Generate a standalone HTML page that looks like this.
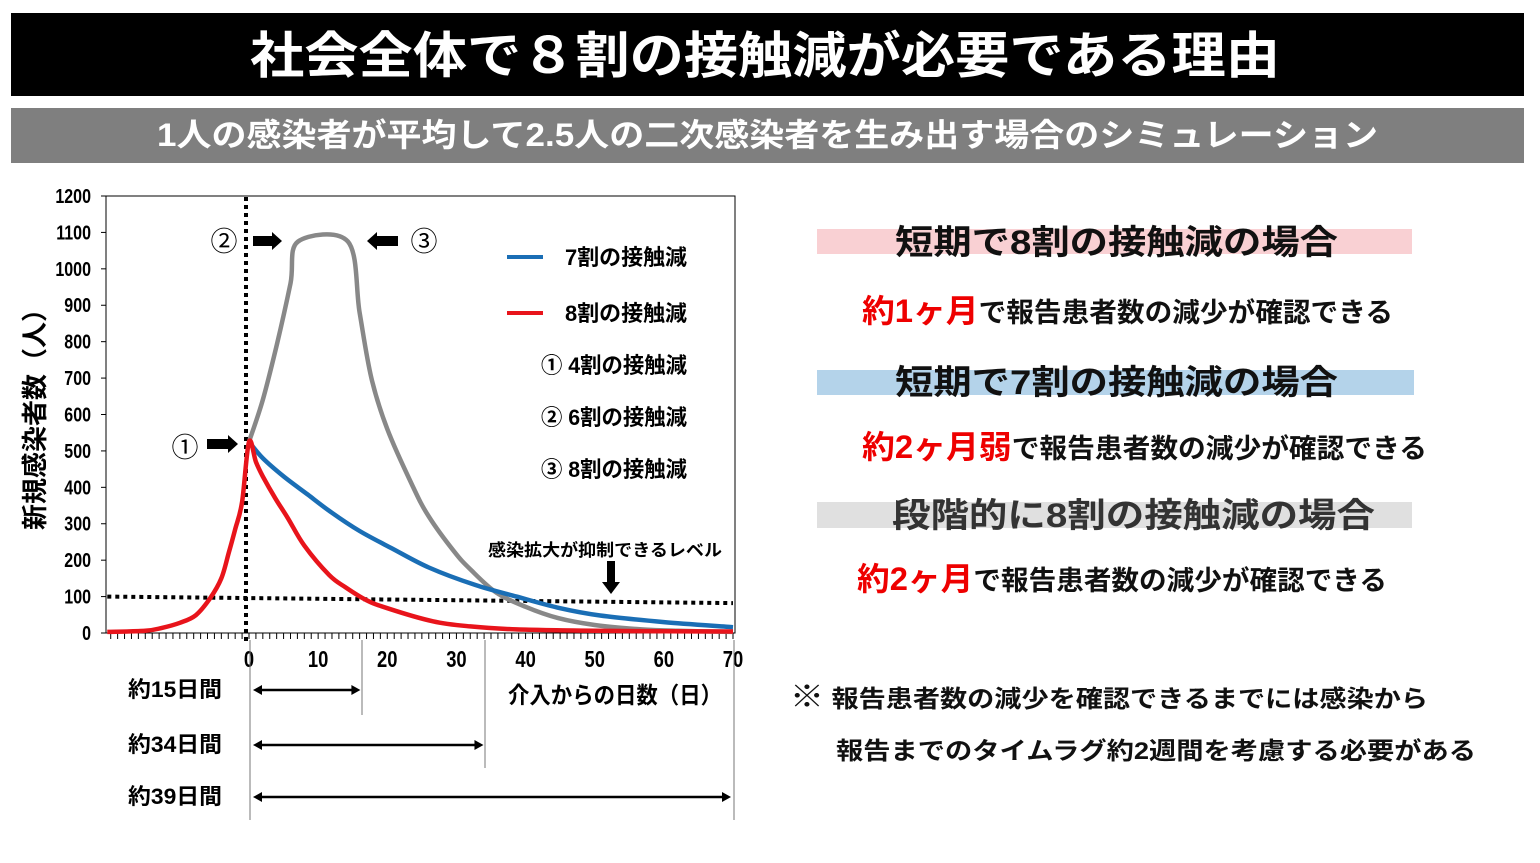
<!DOCTYPE html>
<html><head><meta charset="utf-8">
<style>
body{margin:0;width:1540px;height:858px;background:#fff;overflow:hidden;font-family:"Liberation Sans","Noto Sans CJK JP",sans-serif;}
svg text{font-family:"Liberation Sans","Noto Sans CJK JP",sans-serif;}
</style></head>
<body>
<svg width="1540" height="858" viewBox="0 0 1540 858" xmlns="http://www.w3.org/2000/svg">
<rect x="11" y="13" width="1513" height="83" fill="#000"/>
<text x="250" y="73" textLength="1030" lengthAdjust="spacingAndGlyphs" fill="#fff" font-size="50" font-weight="bold">社会全体で８割の接触減が必要である理由</text>
<rect x="11" y="108" width="1513" height="55" fill="#7f7f7f"/>
<text x="157" y="146" textLength="1221" lengthAdjust="spacingAndGlyphs" fill="#fff" font-size="32" font-weight="bold">1人の感染者が平均して2.5人の二次感染者を生み出す場合のシミュレーション</text>

<g id="chart"></g>

<rect x="817" y="229" width="595" height="25" fill="#f9d0d3"/>
<text x="895" y="254" textLength="443" lengthAdjust="spacingAndGlyphs" font-size="34" font-weight="bold" fill="#111">短期で8割の接触減の場合</text>
<text x="862" y="322" textLength="531" lengthAdjust="spacingAndGlyphs" font-size="27" font-weight="bold" fill="#111"><tspan fill="#e00" font-size="32">約1ヶ月</tspan>で報告患者数の減少が確認できる</text>
<rect x="817" y="370" width="597" height="25" fill="#b4d3ea"/>
<text x="895" y="394" textLength="443" lengthAdjust="spacingAndGlyphs" font-size="34" font-weight="bold" fill="#111">短期で7割の接触減の場合</text>
<text x="862" y="458" textLength="565" lengthAdjust="spacingAndGlyphs" font-size="27" font-weight="bold" fill="#111"><tspan fill="#e00" font-size="32">約2ヶ月弱</tspan>で報告患者数の減少が確認できる</text>
<rect x="817" y="502" width="595" height="26" fill="#e0e0e0"/>
<text x="892" y="527" textLength="483" lengthAdjust="spacingAndGlyphs" font-size="34" font-weight="bold" fill="#333">段階的に8割の接触減の場合</text>
<text x="857" y="590" textLength="530" lengthAdjust="spacingAndGlyphs" font-size="27" font-weight="bold" fill="#111"><tspan fill="#e00" font-size="32">約2ヶ月</tspan>で報告患者数の減少が確認できる</text>
<text x="790" y="707" textLength="638" lengthAdjust="spacingAndGlyphs" font-size="24" font-weight="bold" fill="#111"><tspan font-size="30">※</tspan> 報告患者数の減少を確認できるまでには感染から</text>
<text x="836" y="759" textLength="640" lengthAdjust="spacingAndGlyphs" font-size="24" font-weight="bold" fill="#111">報告までのタイムラグ約2週間を考慮する必要がある</text>
</svg>
<script>
const yTicks=[0,100,200,300,400,500,600,700,800,900,1000,1100,1200];
const xTicks=[0,10,20,30,40,50,60,70];
const redDays=[-20.5,-15,-12.6,-10,-7.7,-5.6,-4,-2.9,-2,-1,0,1,2,3.8,5.6,8,11.6,14,17,20,26.6,32,38.7,50,60,70];
const redVals=[3,6,14,28,49,96,150,222,285,360,525,470,430,370,316,240,159,125,90,68,32,18,10,6,5,4];
const blueDays=[0,2,5,8.5,12,16,20.6,26,32.7,38.7,45,50.8,60,70];
const blueVals=[525,480,430,380,330,280,233,180,132,100,68,48,30,16];
const grayDays=[0,2,4,6,7.1,14.3,16,17.7,20,23.6,26,29.7,32,35.7,40,44.7,50,56.8,62,70];
const grayVals=[525,640,790,960,1075,1075,880,700,560,406,320,223,175,112,72,41,22,10,6,3];
const levelDays=[-20.5,70];
const levelVals=[100,82];
const spanLabels=["約15日間","約34日間","約39日間"];
const spanEnds=[16.4,34.2,70];

const X0=249,XS=484/70,Y0=633,YS=437/1200;
const xs=d=>X0+d*XS, ys=v=>Y0-v*YS;
const NS="http://www.w3.org/2000/svg";
const g=document.getElementById('chart');
function mk(tag,attrs){const e=document.createElementNS(NS,tag);for(const k in attrs)e.setAttribute(k,attrs[k]);g.appendChild(e);return e;}

let e=mk('rect',{x:106,y:196,width:629,height:437,fill:'none',stroke:'#000','stroke-width':1});


yTicks.forEach(v=>{
  let t=mk('line',{x1:101,x2:106,y1:ys(v),y2:ys(v),stroke:'#000'});
  
  
  let l=mk('text',{x:91,y:ys(v)+7,'text-anchor':'end','font-size':20,'font-weight':'bold',transform:`translate(91 0) scale(0.8 1) translate(-91 0)`});
  l.textContent=v;
  
  
});
for(let d=-20;d<=70;d++){
  let t=mk('line',{x1:xs(d),x2:xs(d),y1:633,y2:639,stroke:'#000','stroke-width':1});
  
  
}
xTicks.forEach(d=>{
  let l=mk('text',{x:xs(d),y:667,'text-anchor':'middle','font-size':23,'font-weight':'bold',transform:`translate(${xs(d)} 0) scale(0.8 1) translate(${-xs(d)} 0)`});
  l.textContent=d;
  
  
});
let yt=mk('text',{x:0,y:0,'text-anchor':'middle','font-size':26,'font-weight':'bold',transform:'translate(44 413) rotate(-90)'});
yt.textContent='新規感染者数（人）';


let xt=mk('text',{x:508,y:703,'font-size':23,'font-weight':'bold',textLength:214,lengthAdjust:'spacingAndGlyphs'});
xt.textContent='介入からの日数（日）';



function smooth(D,V){const P=D.map((d,i)=>[xs(d),ys(V[i])]);let s=`M${P[0][0].toFixed(1)},${P[0][1].toFixed(1)}`;
  for(let i=0;i<P.length-1;i++){const p0=P[Math.max(0,i-1)],p1=P[i],p2=P[i+1],p3=P[Math.min(P.length-1,i+2)];
    const c1=[p1[0]+(p2[0]-p0[0])/6,p1[1]+(p2[1]-p0[1])/6],c2=[p2[0]-(p3[0]-p1[0])/6,p2[1]-(p3[1]-p1[1])/6];
    s+=` C${c1[0].toFixed(1)},${c1[1].toFixed(1)} ${c2[0].toFixed(1)},${c2[1].toFixed(1)} ${p2[0].toFixed(1)},${p2[1].toFixed(1)}`;}
  return s;}
function pts(D,V){return D.map((d,i)=>xs(d).toFixed(1)+','+ys(V[i]).toFixed(1)).join(' ');}
let lv=mk('polyline',{points:pts(levelDays,levelVals),fill:'none',stroke:'#000','stroke-width':4,'stroke-dasharray':'4 4'});


let vl=mk('line',{x1:X0-3,x2:X0-3,y1:197,y2:645,stroke:'#000','stroke-width':4,'stroke-dasharray':'4 4'});


let gl=mk('path',{d:smooth(grayDays,grayVals),fill:'none',stroke:'#888','stroke-width':4.5,'stroke-linejoin':'round'});


let bl=mk('path',{d:smooth(blueDays,blueVals),fill:'none',stroke:'#1a6eb5','stroke-width':4.5,'stroke-linejoin':'round'});


let rl=mk('path',{d:smooth(redDays,redVals),fill:'none',stroke:'#e8141b','stroke-width':4.5,'stroke-linejoin':'round'});



[['#1a6eb5','7割の接触減',257],['#e8141b','8割の接触減',313]].forEach(([c,t,y])=>{
  let l=mk('line',{x1:507,x2:543,y1:y,y2:y,stroke:c,'stroke-width':4});
  
  
  let tx=mk('text',{x:565,y:y+8,'font-size':22,'font-weight':'bold',textLength:122,lengthAdjust:'spacingAndGlyphs'});
  tx.textContent=t;
  
  
});
[['① 4割の接触減',373],['② 6割の接触減',425],['③ 8割の接触減',477]].forEach(([t,y])=>{
  let tx=mk('text',{x:541,y:y,'font-size':22,'font-weight':'bold',textLength:146,lengthAdjust:'spacingAndGlyphs'});
  tx.textContent=t;
  
  
});
[['②',224,251],['③',424,251],['①',185,457]].forEach(([t,x,y])=>{
  let tx=mk('text',{x:x,y:y,'text-anchor':'middle','font-size':27});
  tx.textContent=t;
  
  
});
function arrow(x1,x2,y){const dir=x2>x1?1:-1;
  let p=mk('polygon',{points:`${x1},${y-5} ${x2-dir*10},${y-5} ${x2-dir*10},${y-9} ${x2},${y} ${x2-dir*10},${y+9} ${x2-dir*10},${y+5} ${x1},${y+5}`,fill:'#000'});
  
  }
arrow(253,282,241);arrow(398,367,241);arrow(207,238,444);
let lt=mk('text',{x:488,y:556,'font-size':17,'font-weight':'bold',textLength:234,lengthAdjust:'spacingAndGlyphs'});
lt.textContent='感染拡大が抑制できるレベル';


let da=mk('polygon',{points:'607,561 615,561 615,582 620,582 611,594 602,582 607,582',fill:'#000'});



[[250,820],[362,715],[485,768],[734,820]].forEach(([x,y2])=>{
  let l=mk('line',{x1:x,x2:x,y1:640,y2:y2,stroke:'#777','stroke-width':1});
  
  
});
const spanY=[690,745,797];
spanLabels.forEach((t,i)=>{
  let tx=mk('text',{x:128,y:spanY[i]+7,'font-size':22,'font-weight':'bold',textLength:94,lengthAdjust:'spacingAndGlyphs'});
  tx.textContent=t;
  
  
  const x1=xs(0)+4,x2=xs(spanEnds[i])-2,y=spanY[i];
  let l=mk('line',{x1:x1+6,x2:x2-6,y1:y,y2:y,stroke:'#000','stroke-width':2.5});
  
  
  let h=mk('polygon',{points:`${x1},${y} ${x1+9},${y-5} ${x1+9},${y+5}`,fill:'#000'});
  
  
  let h2=mk('polygon',{points:`${x2},${y} ${x2-9},${y-5} ${x2-9},${y+5}`,fill:'#000'});
  
  
});
</script>
</body></html>
